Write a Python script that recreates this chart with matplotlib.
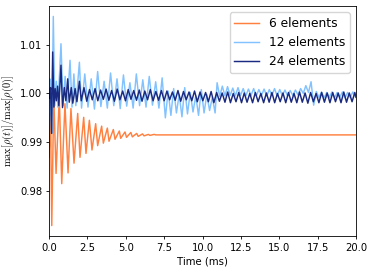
import matplotlib
matplotlib.use("Agg")
import matplotlib.pyplot as plt

# 6 elements
t6 = [0.00, 0.10, 0.18, 0.31, 0.46, 0.67, 0.83, 1.04, 1.24, 1.43, 1.63, 1.87, 2.02,
      2.26, 2.41, 2.63, 2.80, 3.04, 3.17, 3.43, 3.54, 3.80, 3.91, 4.19, 4.30, 4.58,
      4.67, 4.95, 5.05, 5.33, 5.43, 5.71, 5.81, 6.09, 6.19, 6.47, 6.57, 6.85, 6.95,
      7.30, 20.00]
v6 = [0.9869, 0.9960, 0.9729, 0.9995, 0.9836, 0.9992, 0.9815, 0.9979, 0.9837, 0.9969,
      0.9857, 0.9959, 0.9869, 0.9951, 0.9877, 0.9945, 0.9884, 0.9938, 0.9893, 0.9933,
      0.9898, 0.9929, 0.9902, 0.9926, 0.9906, 0.9923, 0.9908, 0.9921, 0.9910, 0.9920,
      0.9911, 0.9918, 0.9912, 0.9917, 0.9913, 0.9916, 0.9914, 0.9916, 0.9915, 0.9915,
      0.9915]

# 12 elements
t12 = [0.00, 0.05, 0.12, 0.18, 0.28, 0.38, 0.48, 0.58, 0.78, 0.92, 1.05, 1.18, 1.37,
       1.50, 1.62, 1.75, 1.98,
       2.12, 2.33, 2.54, 2.75, 2.96, 3.17, 3.38, 3.59, 3.80, 4.01, 4.22, 4.43, 4.64,
       4.85, 5.06, 5.27, 5.48, 5.69, 5.90, 6.11, 6.32, 6.53, 6.74, 6.95, 7.16, 7.37,
       7.58,
       7.76, 7.94, 8.12, 8.30, 8.48, 8.66, 8.84, 9.02, 9.20, 9.38, 9.56, 9.74, 9.92,
       10.10, 10.28, 10.46, 10.64, 10.82,
       10.95, 11.12, 11.29, 11.46, 11.63, 11.80, 11.97, 12.14, 12.31, 12.48, 12.65,
       12.82, 12.99, 13.16, 13.33, 13.50, 13.67, 13.84, 14.01, 14.18, 14.35, 14.52,
       14.69, 14.86, 15.03, 15.20, 15.37, 15.54, 15.71, 15.88, 16.05, 16.22, 16.39,
       16.56, 16.73, 16.90, 17.07, 17.24, 17.41, 17.58, 17.75, 17.92, 18.09, 18.26,
       18.43, 18.60, 18.77, 18.94, 19.11, 19.28, 19.45, 19.62, 19.79, 19.96, 20.00]
v12 = [0.9990, 1.0030, 0.9965, 0.9918, 1.0158, 0.9975, 1.0025, 0.9972, 1.0102, 0.9975,
       1.0035, 0.9970, 1.0068, 0.9972, 1.0040, 0.9975, 1.0064,
       0.9970, 1.0040, 0.9972, 1.0030, 0.9968, 1.0045, 0.9973, 1.0025, 0.9970, 1.0042,
       0.9975, 1.0030, 0.9969, 1.0038, 0.9974, 1.0022, 0.9970, 1.0040, 0.9975, 1.0028,
       0.9972, 1.0035, 0.9976, 1.0024, 0.9970, 1.0032, 0.9950,
       1.0005, 0.9955, 1.0010, 0.9960, 0.9998, 0.9952, 1.0012, 0.9958, 1.0002, 0.9962,
       0.9995, 0.9955, 1.0008, 0.9960, 0.9998, 0.9965, 0.9992, 0.9960,
       1.0022, 0.9994, 1.0015, 0.9995, 1.0014, 0.9996, 1.0011, 0.9995, 1.0012, 0.9996,
       1.0010, 0.9995, 1.0009, 0.9996, 1.0010, 0.9995, 1.0008, 0.9996, 1.0009, 0.9995,
       1.0008, 0.9996, 1.0010, 0.9995, 1.0008, 0.9996, 1.0007, 0.9995, 1.0006, 0.9996,
       1.0007, 0.9997, 1.0010, 1.0000, 1.0016, 1.0002, 1.0024, 0.9976, 1.0004, 0.9992,
       1.0003, 0.9991, 1.0002, 0.9992, 1.0003, 0.9991, 1.0002, 0.9992, 1.0003, 0.9991,
       1.0002, 0.9992, 1.0003, 0.9993, 0.9998]

# 24 elements
t24 = [0.00, 0.05, 0.10, 0.17, 0.24, 0.32, 0.40, 0.48, 0.56, 0.64, 0.78, 0.88, 1.00,
       1.10, 1.22, 1.32, 1.45, 1.55, 1.70, 1.82, 1.98,
       2.10, 2.28, 2.46, 2.64, 2.82, 3.00, 3.18, 3.36, 3.54, 3.72, 3.90, 4.08, 4.26,
       4.44, 4.62, 4.80, 4.98, 5.16, 5.34, 5.52, 5.70, 5.88, 6.06, 6.24, 6.42, 6.60,
       6.78, 6.96, 7.14, 7.32, 7.50, 7.68, 7.86, 8.04, 8.22, 8.40, 8.58, 8.76, 8.94,
       9.12, 9.30, 9.48, 9.66, 9.84, 10.02, 10.20, 10.38, 10.56, 10.74, 10.92, 11.10,
       11.28, 11.46, 11.64, 11.82, 12.00, 12.18, 12.36, 12.54, 12.72, 12.90, 13.08,
       13.26, 13.44, 13.62, 13.80, 13.98, 14.16, 14.34, 14.52, 14.70, 14.88, 15.06,
       15.24, 15.42, 15.60, 15.78, 15.96, 16.14, 16.32, 16.50, 16.68, 16.86, 17.04,
       17.22, 17.40, 17.58, 17.76, 17.94, 18.12, 18.30, 18.48, 18.66, 18.84, 19.02,
       19.20, 19.38, 19.56, 19.74, 19.92, 20.00]
v24 = [1.0000, 0.9990, 1.0012, 0.9918, 1.0085, 0.9972, 1.0010, 0.9985, 1.0015, 0.9975,
       1.0058, 0.9971, 1.0012, 0.9985, 1.0030, 0.9982, 1.0012, 0.9980, 1.0010, 0.9983,
       1.0025,
       0.9985, 1.0012, 0.9984, 1.0008, 0.9987, 1.0010, 0.9985, 1.0007, 0.9988, 1.0009,
       0.9986, 1.0006, 0.9984, 1.0009, 0.9987, 1.0005, 0.9985, 1.0008, 0.9988, 1.0006,
       0.9986, 1.0007, 0.9984, 1.0005, 0.9987, 1.0008, 0.9985, 1.0004, 0.9986, 1.0006,
       0.9985, 1.0005, 0.9987, 1.0003, 0.9986, 1.0006, 0.9984, 1.0004, 0.9987, 1.0003,
       0.9985, 1.0005, 0.9983, 1.0003, 0.9985, 1.0002, 0.9983, 1.0004, 0.9981, 1.0002,
       0.9984, 1.0001, 0.9982, 1.0003, 0.9981, 1.0000, 0.9983, 1.0002, 0.9981, 1.0001,
       0.9982, 1.0000, 0.9981, 1.0002, 0.9983, 1.0000, 0.9981, 1.0001, 0.9982, 1.0002,
       0.9981, 1.0000, 0.9983, 1.0001, 0.9981, 1.0002, 0.9982, 1.0000, 0.9981, 1.0003,
       0.9982, 1.0001, 0.9980, 1.0002, 0.9983, 1.0000, 0.9981, 1.0002, 0.9982, 1.0001,
       0.9981, 1.0002, 0.9983, 1.0001, 0.9981, 1.0003, 0.9982, 1.0001, 0.9983, 1.0002,
       0.9992]

labels = ["6 elements", "12 elements", "24 elements"]
colors = ["#ff803f", "#82c2ff", "#1a2a80"]

plt.rcParams["mathtext.fontset"] = "cm"
plt.rcParams["axes.linewidth"] = 0.6

fig = plt.figure(figsize=(3.74, 2.71), dpi=100)
ax = fig.add_axes([0.131, 0.129, 0.821, 0.849])

ax.plot(t6, v6, color=colors[0], linewidth=1.05, label=labels[0])
ax.plot(t12, v12, color=colors[1], linewidth=1.05, label=labels[1])
ax.plot(t24, v24, color=colors[2], linewidth=1.05, label=labels[2])

ax.set_xlim(0, 20)
ax.set_yticks([0.98, 0.99, 1.00, 1.01])
ax.set_xticks([0, 2.5, 5, 7.5, 10, 12.5, 15, 17.5, 20])
ax.tick_params(labelsize=7.2, length=2.5, width=0.6, pad=2.4)
ax.set_xlabel("Time (ms)", fontsize=7.3, labelpad=2.5)
ax.set_ylabel(r"$\max[\rho(t)]/\max[\rho(0)]$", fontsize=7.5, labelpad=2.8)

ax.legend(loc="upper right", fontsize=8.8, handlelength=2.0)

fig.savefig("out.png", dpi=100)
